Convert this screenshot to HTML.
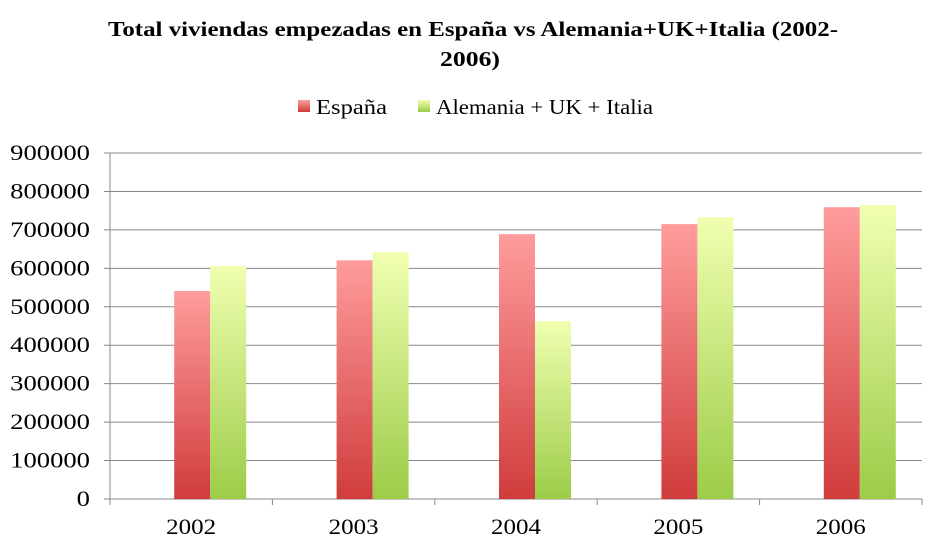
<!DOCTYPE html>
<html><head><meta charset="utf-8"><style>
body{margin:0;background:#fff;}
svg{display:block;font-family:"Liberation Serif",serif;}
</style></head><body>
<svg width="929" height="543" viewBox="0 0 929 543">
<defs>
<linearGradient id="gr" x1="0" y1="0" x2="0" y2="1"><stop offset="0" stop-color="#ff9c9c"/><stop offset="1" stop-color="#d03c3c"/></linearGradient>
<linearGradient id="gg" x1="0" y1="0" x2="0" y2="1"><stop offset="0" stop-color="#f0ffb0"/><stop offset="1" stop-color="#9ccc48"/></linearGradient>
</defs>
<text x="108" y="36" font-size="21" font-weight="bold" textLength="730" lengthAdjust="spacingAndGlyphs">Total viviendas empezadas en España vs Alemania+UK+Italia (2002-</text>
<text x="440" y="66" font-size="21" font-weight="bold" textLength="60" lengthAdjust="spacingAndGlyphs">2006)</text>
<g>
<rect x="298" y="100" width="12" height="12" fill="url(#gr)"/>
<text x="316" y="114" font-size="21" textLength="71" lengthAdjust="spacingAndGlyphs">España</text>
<rect x="418" y="100" width="12" height="12" fill="url(#gg)"/>
<text x="436" y="114" font-size="21" textLength="217" lengthAdjust="spacingAndGlyphs">Alemania + UK + Italia</text>
</g>
<g id="grid"></g><g id="bars"></g><g id="axes"></g>
</svg>
<script>
const categories=["2002","2003","2004","2005","2006"];
const espana=[541000,621000,689000,715000,759000];
const otros=[606000,642000,463000,733000,765000];
const ticks=[0,100000,200000,300000,400000,500000,600000,700000,800000,900000];
const X0=110,X1=922,Y0=499,Y1=153,MAX=900000;
const y=v=>Y0-(v/MAX)*(Y0-Y1);
const bw=(X1-X0)/categories.length;
const NS="http://www.w3.org/2000/svg";
function mk(t,a,p){const e=document.createElementNS(NS,t);for(const k in a)e.setAttribute(k,a[k]);document.getElementById(p).appendChild(e);return e;}
ticks.forEach(t=>{
 const l=mk('line',{x1:X0-6,x2:X1,y1:y(t),y2:y(t),stroke:'#888','stroke-width':1},'grid');
 
 
 const s=String(t);
 const tx=mk('text',{x:90,y:y(t)+7,'text-anchor':'end','font-size':22,textLength:s.length*13.3,lengthAdjust:'spacingAndGlyphs'},'axes');
 tx.textContent=s;
 
 
});
const ax=mk('line',{x1:X0,x2:X0,y1:Y1,y2:Y0+6,stroke:'#888'},'axes');


categories.forEach((c,i)=>{
 const cx=X0+bw*(i+0.5);
 const tk=mk('line',{x1:X0+bw*(i+1),x2:X0+bw*(i+1),y1:Y0,y2:Y0+6,stroke:'#888'},'axes');
 
 
 const r=mk('rect',{x:cx-17,y:y(espana[i]),width:36,height:Y0-y(espana[i]),fill:'url(#gr)'},'bars');
 
 
 const g=mk('rect',{x:cx+19,y:y(otros[i]),width:36,height:Y0-y(otros[i]),fill:'url(#gg)'},'bars');
 
 
 const t=mk('text',{x:cx,y:534,'text-anchor':'middle','font-size':22,textLength:50,lengthAdjust:'spacingAndGlyphs'},'axes');
 t.textContent=c;
 
 
});
</script>
</body></html>
